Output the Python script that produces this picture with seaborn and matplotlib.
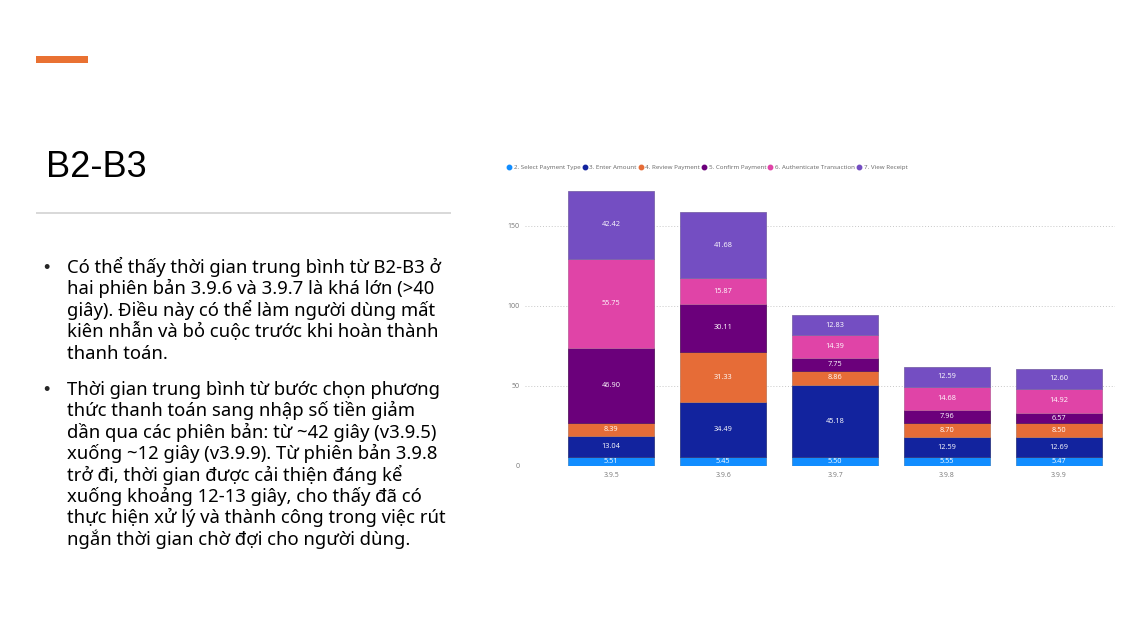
import pandas as pd
import seaborn as sns
import matplotlib.pyplot as plt
from matplotlib.lines import Line2D
from matplotlib.patches import Rectangle

# Chart data: average seconds per step, by app version
versions = ['3.9.5', '3.9.6', '3.9.7', '3.9.8', '3.9.9']
steps = ['2. Select Payment Type', '3. Enter Amount', '4. Review Payment',
         '5. Confirm Payment', '6. Authenticate Transaction', '7. View Receipt']
select_payment = [5.51, 5.45, 5.50, 5.55, 5.47]
enter_amount = [13.04, 34.49, 45.18, 12.59, 12.69]
review_payment = [8.39, 31.33, 8.86, 8.70, 8.50]
confirm_payment = [46.90, 30.11, 7.75, 7.96, 6.57]
authenticate = [55.75, 15.87, 14.39, 14.68, 14.92]
view_receipt = [42.42, 41.68, 12.83, 12.59, 12.60]
colors = ['#118DFF', '#12239E', '#E66C37', '#6B007B', '#E044A7', '#744EC2']

title = 'B2-B3'
para1 = ['Có thể thấy thời gian trung bình từ B2-B3 ở',
         'hai phiên bản 3.9.6 và 3.9.7 là khá lớn (>40',
         'giây). Điều này có thể làm người dùng mất',
         'kiên nhẫn và bỏ cuộc trước khi hoàn thành',
         'thanh toán.']
para2 = ['Thời gian trung bình từ bước chọn phương',
         'thức thanh toán sang nhập số tiền giảm',
         'dần qua các phiên bản: từ ~42 giây (v3.9.5)',
         'xuống ~12 giây (v3.9.9). Từ phiên bản 3.9.8',
         'trở đi, thời gian được cải thiện đáng kể',
         'xuống khoảng 12-13 giây, cho thấy đã có',
         'thực hiện xử lý và thành công trong việc rút',
         'ngắn thời gian chờ đợi cho người dùng.']

df = pd.DataFrame({'version': versions, steps[0]: select_payment, steps[1]: enter_amount,
                   steps[2]: review_payment, steps[3]: confirm_payment,
                   steps[4]: authenticate, steps[5]: view_receipt})

W, H = 1145, 639
sns.set_theme(style='white')
plt.rcParams['font.family'] = ['Noto Sans', 'DejaVu Sans']
fig = plt.figure(figsize=(W / 100, H / 100), dpi=100)
fig.patch.set_facecolor('white')


def fx(px):
    return px / W


def fy(py):
    return 1 - py / H


# slide decoration
fig.add_artist(Rectangle((fx(36), fy(62.5)), fx(52), 6.5 / H, transform=fig.transFigure,
                         color='#E97132', lw=0))
fig.add_artist(Rectangle((fx(36), fy(214)), fx(415), 2 / H, transform=fig.transFigure,
                         color='#D9D9D9', lw=0))
fig.text(fx(46), fy(177), title, fontsize=26, family='Liberation Sans', va='baseline', color='black')

line_h = 21.4
for lines, y0 in [(para1, 273), (para2, 395)]:
    fig.text(fx(43), fy(y0), '•', fontsize=13, va='baseline', family='Liberation Sans')
    for i, s in enumerate(lines):
        fig.text(fx(67), fy(y0 + i * line_h), s, fontsize=13.3, va='baseline', color='black')

# chart
ax = fig.add_axes([fx(525), fy(466), fx(1115 - 525), (466 - 178) / H])
bottom = [0.0] * len(versions)
for step, c in zip(steps, colors):
    sns.barplot(data=df, x='version', y=step, color=c, width=0.77, bottom=bottom,
                saturation=1, ax=ax, linewidth=0.6, edgecolor=sns.desaturate(c, 0.6))
    ax.bar_label(ax.containers[-1], labels=[f'{v:.2f}' for v in df[step]], label_type='center',
                 color='white', fontsize=5.3, family='Open Sans')
    bottom = [b + v for b, v in zip(bottom, df[step])]

ax.set_ylim(0, 180)
ax.set_xlim(-0.77, 4.5)
ax.set_yticks([0, 50, 100, 150])
ax.set_xlabel('')
ax.set_ylabel('')
ax.grid(axis='y', linestyle=(0, (1, 2)), color='#C8C8C8', linewidth=0.7)
ax.set_axisbelow(True)
for sp in ax.spines.values():
    sp.set_visible(False)
ax.tick_params(axis='both', length=0, labelsize=5, labelcolor='#777777', pad=4)
for t in ax.get_yticklabels() + ax.get_xticklabels():
    t.set_family('Open Sans')

handles = [Line2D([], [], marker='o', linestyle='', markersize=3.2, color=c) for c in colors]
fig.legend(handles, steps, loc='center left', bbox_to_anchor=(fx(507), fy(167)), ncol=6,
           frameon=False, handletextpad=0.4, columnspacing=0.3, handlelength=0.7,
           borderpad=0, borderaxespad=0, prop={'family': 'Open Sans', 'size': 4.5}, labelcolor='#666666')

fig.savefig('out.png', dpi=100, facecolor='white')
